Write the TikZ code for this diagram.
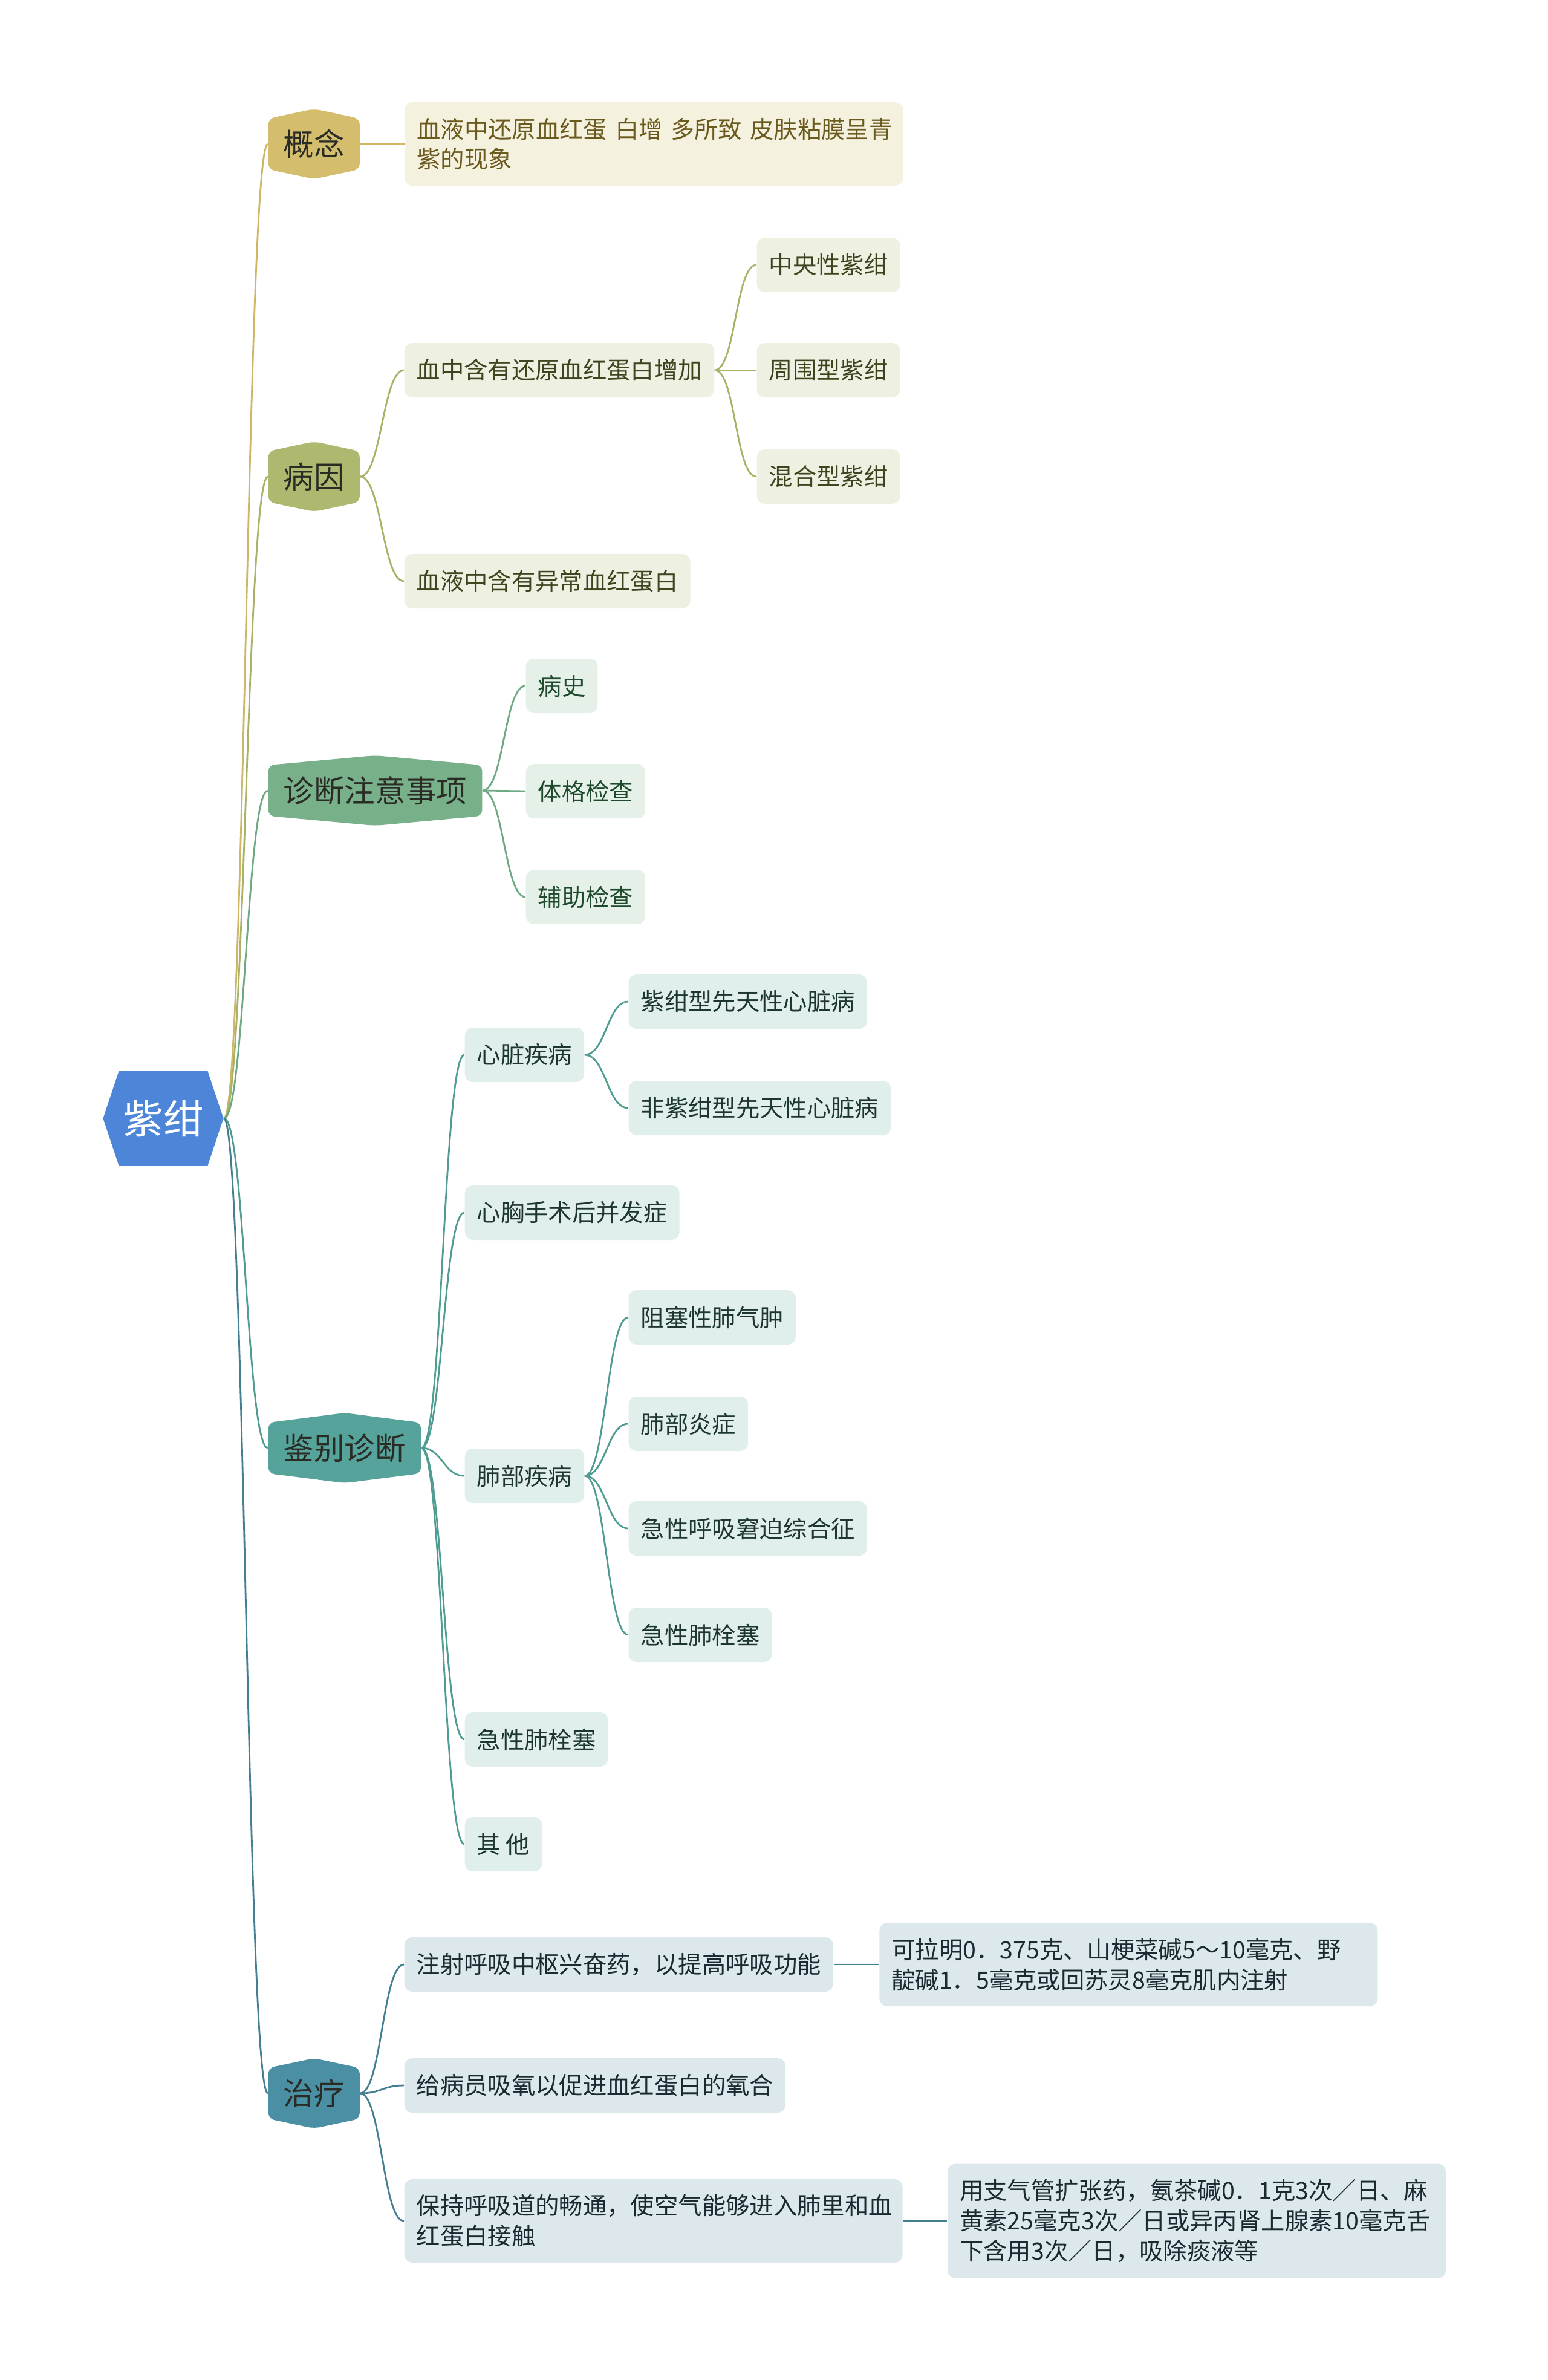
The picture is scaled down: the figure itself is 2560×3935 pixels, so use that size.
\documentclass[tikz,border=0pt]{standalone}
\usepackage{fontspec}
\newfontfamily\cjk{Noto Sans CJK SC}
\usetikzlibrary{positioning,calc}

\definecolor{rootblue}{HTML}{4D86D9}
\definecolor{hextext}{HTML}{2B2B26}
\definecolor{goldfill}{HTML}{D4BE6E}
\definecolor{goldline}{HTML}{CDB665}
\definecolor{goldbox}{HTML}{F4F1DE}
\definecolor{goldtext}{HTML}{6B5A1E}
\definecolor{olivefill}{HTML}{AEB86F}
\definecolor{oliveline}{HTML}{A8B366}
\definecolor{olivebox}{HTML}{EEF0E2}
\definecolor{olivetext}{HTML}{3C451E}
\definecolor{greenfill}{HTML}{78B08A}
\definecolor{greenline}{HTML}{6FA983}
\definecolor{greenbox}{HTML}{E5F0E8}
\definecolor{greentext}{HTML}{1F4A2D}
\definecolor{tealfill}{HTML}{55A39A}
\definecolor{tealline}{HTML}{4E9C92}
\definecolor{tealbox}{HTML}{E0EFEC}
\definecolor{tealtext}{HTML}{1E3631}
\definecolor{bluefill}{HTML}{4A8FA3}
\definecolor{blueline}{HTML}{437E91}
\definecolor{bluebox}{HTML}{DDE8EC}
\definecolor{bluetext}{HTML}{1A2A30}

\begin{document}
\begin{tikzpicture}[
  x=0.1mm, y=-0.1mm,
  font=\cjk,
  root/.style={minimum width=19.9mm, minimum height=15.6mm, inner sep=0pt,
    text=white, font=\cjk\fontsize{18.9}{22}\selectfont,
    path picture={\fill[rootblue] (path picture bounding box.west)
      -- ($(path picture bounding box.north west)+(2.6mm,0)$)
      -- ($(path picture bounding box.north east)+(-2.6mm,0)$)
      -- (path picture bounding box.east)
      -- ($(path picture bounding box.south east)+(-2.6mm,0)$)
      -- ($(path picture bounding box.south west)+(2.6mm,0)$) -- cycle;}},
  topic/.style={anchor=west, minimum height=11.6mm, inner xsep=2.5mm, inner ysep=0pt,
    text=hextext, font=\cjk\fontsize{14.4}{17}\selectfont,
    path picture={\fill[#1, rounded corners=1mm]
      ($(path picture bounding box.north west)+(0,-1.6mm)$)
      -- (path picture bounding box.north)
      -- ($(path picture bounding box.north east)+(0,-1.6mm)$)
      -- ($(path picture bounding box.south east)+(0,1.6mm)$)
      -- (path picture bounding box.south)
      -- ($(path picture bounding box.south west)+(0,1.6mm)$) -- cycle;}},
  leaf/.style={anchor=west, fill=#1, rounded corners=1.3mm, minimum height=9mm,
    inner xsep=2mm, inner ysep=2.5mm, font=\cjk\fontsize{11.2}{14.2}\selectfont},
  gleaf/.style={leaf=goldbox, text=goldtext},
  oleaf/.style={leaf=olivebox, text=olivetext},
  eleaf/.style={leaf=greenbox, text=greentext},
  tleaf/.style={leaf=tealbox, text=tealtext},
  bleaf/.style={leaf=bluebox, text=bluetext},
  wide/.style={text width=78.4mm, minimum height=#1, align=left},
  link/.style={draw=#1, line width=0.8pt, out=0, in=180,
    out distance=3.5mm, in distance=3.5mm}
]
\fill[white] (0,0) rectangle (2560,3935);
\useasboundingbox (0,0) rectangle (2560,3935);

\node[root] (zg) at (270,1849) {紫绀};

\node[topic=goldfill] (gn) at (443,238) {概念};
\node[topic=olivefill] (by) at (443,788) {病因};
\node[topic=greenfill] (zd) at (443,1307) {诊断注意事项};
\node[topic=tealfill] (jb) at (443,2394) {鉴别诊断};
\node[topic=bluefill] (zl) at (443,3461) {治疗};

% 概念
\node[gleaf, wide=13.8mm, right=7.3mm of gn] (gn1)
  {血液中还原血红蛋~白增~多所致~皮肤粘膜呈青\\紫的现象};

% 病因
\node[oleaf] (by1) at (668,612) {血中含有还原血红蛋白增加};
\node[oleaf] (by2) at (668,961) {血液中含有异常血红蛋白};
\node[oleaf] (by11) at (1251,438) {中央性紫绀};
\node[oleaf] (by12) at (1251,612) {周围型紫绀};
\node[oleaf] (by13) at (1251,788) {混合型紫绀};

% 诊断注意事项
\node[eleaf] (zd1) at (869,1134) {病史};
\node[eleaf] (zd2) at (869,1308) {体格检查};
\node[eleaf] (zd3) at (869,1483) {辅助检查};

% 鉴别诊断
\node[tleaf] (jb1) at (768,1744) {心脏疾病};
\node[tleaf] (jb2) at (768,2005) {心胸手术后并发症};
\node[tleaf] (jb3) at (768,2440) {肺部疾病};
\node[tleaf] (jb4) at (768,2876) {急性肺栓塞};
\node[tleaf] (jb5) at (768,3049) {其 他};
\node[tleaf] (jb11) at (1039,1656) {紫绀型先天性心脏病};
\node[tleaf] (jb12) at (1039,1832) {非紫绀型先天性心脏病};
\node[tleaf] (jb31) at (1039,2178) {阻塞性肺气肿};
\node[tleaf] (jb32) at (1039,2354) {肺部炎症};
\node[tleaf] (jb33) at (1039,2527) {急性呼吸窘迫综合征};
\node[tleaf] (jb34) at (1039,2703) {急性肺栓塞};

% 治疗
\node[bleaf] (zl1) at (668,3248) {注射呼吸中枢兴奋药，以提高呼吸功能};
\node[bleaf] (zl2) at (668,3448) {给病员吸氧以促进血红蛋白的氧合};
\node[bleaf, wide=13.8mm] (zl3) at (668,3672)
  {保持呼吸道的畅通，使空气能够进入肺里和血\\红蛋白接触};
\node[bleaf, wide=13.8mm, right=7.5mm of zl1] (zl11)
  {可拉明0．375克、山梗菜碱5～10毫克、野\\靛碱1．5毫克或回苏灵8毫克肌内注射};
\node[bleaf, wide=18.9mm, right=7.3mm of zl3] (zl31)
  {用支气管扩张药，氨茶碱0．1克3次／日、麻\\黄素25毫克3次／日或异丙肾上腺素10毫克舌\\下含用3次／日，吸除痰液等};

% connectors
\foreach \t/\col in {gn/goldline, by/oliveline, zd/greenline, jb/tealline, zl/blueline}
  \draw[link=\col] (zg.east) to (\t.west);
\draw[link=goldline] (gn.east) to (gn1.west);
\foreach \n in {by1,by2}
  \draw[link=oliveline] (by.east) to (\n.west);
\foreach \n in {by11,by12,by13}
  \draw[link=oliveline] (by1.east) to (\n.west);
\foreach \n in {zd1,zd2,zd3}
  \draw[link=greenline] (zd.east) to (\n.west);
\foreach \n in {jb1,jb2,jb3,jb4,jb5}
  \draw[link=tealline] (jb.east) to (\n.west);
\foreach \n in {jb11,jb12}
  \draw[link=tealline] (jb1.east) to (\n.west);
\foreach \n in {jb31,jb32,jb33,jb34}
  \draw[link=tealline] (jb3.east) to (\n.west);
\foreach \n in {zl1,zl2,zl3}
  \draw[link=blueline] (zl.east) to (\n.west);
\draw[link=blueline] (zl1.east) to (zl11.west);
\draw[link=blueline] (zl3.east) to (zl31.west);
\end{tikzpicture}
\end{document}
